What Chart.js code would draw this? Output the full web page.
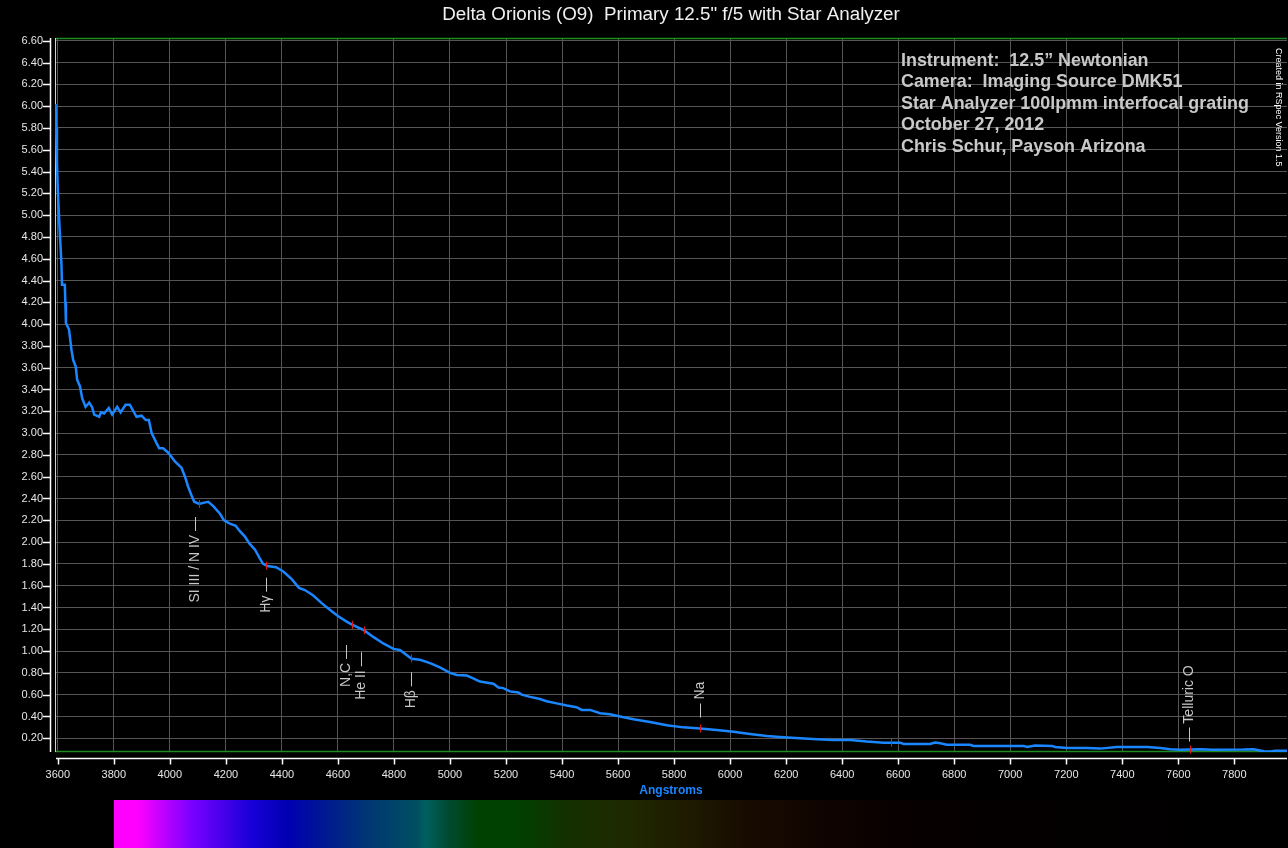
<!DOCTYPE html>
<html>
<head>
<meta charset="utf-8">
<script src="https://cdn.jsdelivr.net/npm/chart.js@4.4.0/dist/chart.umd.min.js"></script>
<style>
  html, body { margin: 0; padding: 0; background: #000; }
</style>
</head>
<body>
<canvas id="myChart" width="1288" height="848"></canvas>
<script>
// spectrum (Angstroms, relative flux)
const wavelengths = [3592, 3594, 3597, 3600, 3605, 3609, 3613, 3615, 3625, 3627, 3629, 3640, 3649, 3655,
  3664, 3669, 3679, 3687, 3699, 3712, 3722, 3730, 3748, 3754, 3765, 3782, 3794, 3812, 3824, 3842,
  3857, 3881, 3899, 3914, 3925, 3935, 3952, 3962, 3976, 3994, 4006, 4018, 4030, 4042, 4054, 4065,
  4077, 4087, 4105, 4119, 4137, 4155, 4179, 4193, 4214, 4235, 4250, 4268, 4283, 4304, 4321, 4333,
  4348, 4379, 4405, 4435, 4461, 4482, 4512, 4542, 4571, 4601, 4631, 4652, 4694, 4726, 4762, 4798,
  4821, 4863, 4893, 4929, 4964, 5000, 5024, 5060, 5083, 5107, 5155, 5173, 5190, 5214, 5244, 5256,
  5286, 5321, 5345, 5381, 5417, 5452, 5470, 5500, 5536, 5571, 5607, 5655, 5714, 5774, 5833, 5893,
  5952, 6012, 6071, 6131, 6190, 6250, 6310, 6369, 6429, 6488, 6548, 6607, 6619, 6654, 6714, 6732,
  6750, 6774, 6857, 6869, 7048, 7060, 7089, 7149, 7160, 7202, 7274, 7321, 7381, 7488, 7536, 7571,
  7607, 7679, 7721, 7833, 7869, 7905, 7929, 7946, 7988];
const flux = [6.02, 5.80, 5.50, 5.23, 4.95, 4.75, 4.55, 4.36, 4.36, 4.20, 4.01, 3.95, 3.76, 3.67,
  3.61, 3.49, 3.43, 3.32, 3.24, 3.28, 3.24, 3.17, 3.15, 3.19, 3.18, 3.23, 3.17, 3.24, 3.19, 3.26,
  3.26, 3.15, 3.16, 3.12, 3.12, 3.00, 2.91, 2.86, 2.86, 2.82, 2.78, 2.74, 2.71, 2.68, 2.60, 2.51,
  2.43, 2.37, 2.35, 2.36, 2.37, 2.33, 2.26, 2.20, 2.17, 2.15, 2.10, 2.05, 1.99, 1.93, 1.85, 1.80,
  1.78, 1.77, 1.73, 1.66, 1.58, 1.56, 1.51, 1.44, 1.38, 1.32, 1.27, 1.24, 1.19, 1.13, 1.07, 1.02,
  1.01, 0.93, 0.92, 0.89, 0.85, 0.80, 0.78, 0.775, 0.75, 0.72, 0.70, 0.665, 0.66, 0.63, 0.62, 0.60,
  0.58, 0.56, 0.54, 0.52, 0.50, 0.485, 0.46, 0.46, 0.43, 0.42, 0.40, 0.375, 0.35, 0.32, 0.30, 0.29,
  0.276, 0.26, 0.24, 0.22, 0.21, 0.20, 0.19, 0.185, 0.185, 0.17, 0.16, 0.16, 0.148, 0.148, 0.148, 0.16,
  0.155, 0.14, 0.14, 0.13, 0.13, 0.12, 0.133, 0.13, 0.12, 0.11, 0.11, 0.105, 0.12, 0.12, 0.11, 0.10,
  0.094, 0.10, 0.094, 0.096, 0.10, 0.08, 0.078, 0.085, 0.085];

const xTickValues = [3600, 3800, 4000, 4200, 4400, 4600, 4800, 5000, 5200, 5400, 5600, 5800,
  6000, 6200, 6400, 6600, 6800, 7000, 7200, 7400, 7600, 7800];
const yTickValues = [0.2, 0.4, 0.6, 0.8, 1.0, 1.2, 1.4, 1.6, 1.8, 2.0, 2.2, 2.4, 2.6, 2.8, 3.0, 3.2,
  3.4, 3.6, 3.8, 4.0, 4.2, 4.4, 4.6, 4.8, 5.0, 5.2, 5.4, 5.6, 5.8, 6.0, 6.2, 6.4, 6.6];

// identified lines
const lineWavelengths = [4105, 4345, 4652, 4694, 4861, 5893, 6575, 7640];
const lineNames = ['SI III / N IV —', 'Hγ —', 'N,C —', 'He II —', 'Hβ —', '— Na', '', '— Telluric O'];

const chartTitle = 'Delta Orionis (O9)  Primary 12.5" f/5 with Star Analyzer';
const infoLines = ['Instrument:  12.5\u201d Newtonian', 'Camera:  Imaging Source DMK51',
  'Star Analyzer 100lpmm interfocal grating', 'October 27, 2012', 'Chris Schur, Payson Arizona'];

const FONT = '"Liberation Sans", Arial, sans-serif';
Chart.defaults.font.family = FONT;

function fluxAt(w) {
  for (let i = 1; i < wavelengths.length; i++) {
    if (w <= wavelengths[i]) {
      const t = (w - wavelengths[i - 1]) / (wavelengths[i] - wavelengths[i - 1]);
      return flux[i - 1] + t * (flux[i] - flux[i - 1]);
    }
  }
  return flux[flux.length - 1];
}

// label placement: side of the curve, gap in px, sideways nudge in px
const labelSide = ['below', 'below', 'below', 'below', 'below', 'above', '', 'above'];
const labelGap = [13, 12, 20, 22, 14, 11, 0, 8];
const labelShift = [-4, 0, -6, -3, 0, 0, 0, -1];

const decor = {
  id: 'decor',
  beforeDatasetsDraw(chart) {
    const {ctx, chartArea: a, scales: {x, y}} = chart;
    ctx.save();
    // green frame top/bottom, yellow left edge
    ctx.strokeStyle = '#1f8a1f';
    ctx.lineWidth = 1.5;
    ctx.beginPath();
    ctx.moveTo(a.left, a.top + 0.5); ctx.lineTo(a.right, a.top + 0.5);
    ctx.moveTo(a.left, a.bottom - 0.5); ctx.lineTo(a.right, a.bottom - 0.5);
    ctx.stroke();
    ctx.strokeStyle = '#e8d870';
    ctx.lineWidth = 1;
    ctx.beginPath();
    ctx.moveTo(a.left + 0.5, a.top); ctx.lineTo(a.left + 0.5, a.bottom);
    ctx.stroke();
    // white axis lines offset from the plot
    ctx.strokeStyle = '#ffffff';
    ctx.lineWidth = 1.5;
    ctx.beginPath();
    ctx.moveTo(a.left - 4.5, a.top); ctx.lineTo(a.left - 4.5, a.bottom);
    ctx.moveTo(a.left + 1, a.bottom + 6.5); ctx.lineTo(a.right, a.bottom + 6.5);
    yTickValues.forEach(v => {
      const py = Math.round(y.getPixelForValue(v)) + 0.5;
      ctx.moveTo(a.left - 12, py); ctx.lineTo(a.left - 4.5, py);
    });
    xTickValues.forEach(v => {
      const px = Math.round(x.getPixelForValue(v)) + 0.5;
      ctx.moveTo(px, a.bottom + 6.5); ctx.lineTo(px, a.bottom + 12.5);
    });
    ctx.stroke();
    ctx.restore();
  },
  afterDatasetsDraw(chart) {
    const {ctx, scales: {x, y}} = chart;
    ctx.save();
    // red line markers and rotated labels
    lineWavelengths.forEach((w, i) => {
      const px = Math.round(x.getPixelForValue(w)) + 0.5;
      const py = y.getPixelForValue(fluxAt(w));
      ctx.strokeStyle = '#e01818';
      ctx.lineWidth = 1;
      ctx.beginPath();
      ctx.moveTo(px, py - 4); ctx.lineTo(px, py + 4);
      ctx.stroke();
      if (!lineNames[i]) return;
      ctx.save();
      ctx.fillStyle = '#c8c8c8';
      ctx.font = '14px ' + FONT;
      ctx.textBaseline = 'middle';
      if (labelSide[i] === 'below') {
        ctx.translate(px + labelShift[i], py + labelGap[i]);
        ctx.rotate(-Math.PI / 2);
        ctx.textAlign = 'right';
      } else {
        ctx.translate(px + labelShift[i], py - labelGap[i]);
        ctx.rotate(-Math.PI / 2);
        ctx.textAlign = 'left';
      }
      ctx.fillText(lineNames[i], 0, 0);
      ctx.restore();
    });
    ctx.restore();
  },
  afterDraw(chart) {
    const {ctx, chartArea: a, scales: {x}} = chart;
    ctx.save();
    // title
    ctx.fillStyle = '#f0f0f0';
    ctx.font = '18.8px ' + FONT;
    ctx.textAlign = 'center';
    ctx.textBaseline = 'middle';
    ctx.fillText(chartTitle, (a.left + a.right) / 2, 15);
    // info block
    ctx.fillStyle = '#c8c8c8';
    ctx.font = 'bold 17.9px ' + FONT;
    ctx.textAlign = 'left';
    infoLines.forEach((t, i) => ctx.fillText(t, 901, 61 + i * 21.5));
    // software credit
    ctx.save();
    ctx.fillStyle = '#ffffff';
    ctx.font = '9px ' + FONT;
    ctx.translate(1278, 48);
    ctx.rotate(Math.PI / 2);
    ctx.textAlign = 'left';
    ctx.fillText('Created in RSpec Version 1.5', 0, 0);
    ctx.restore();
    // synthetic spectrum strip
    const x0 = x.getPixelForValue(3800), x1 = chart.width;
    const g = ctx.createLinearGradient(x0, 0, x1, 0);
    [[0, '#ff00ff'], [0.02, '#ff00ff'], [0.066, '#7a00ff'], [0.117, '#1800d8'], [0.149, '#0000b0'],
     [0.181, '#001a90'], [0.214, '#003575'], [0.259, '#005060'], [0.266, '#006060'], [0.285, '#004a30'],
     [0.311, '#004000'], [0.343, '#004000'], [0.388, '#153000'], [0.44, '#1e2800'], [0.49, '#1e1a00'],
     [0.537, '#180c00'], [0.6, '#100400'], [0.665, '#080000'], [0.76, '#040000'], [1, '#000000']]
      .forEach(s => g.addColorStop(s[0], s[1]));
    ctx.fillStyle = g;
    ctx.fillRect(x0, 800, x1 - x0, 48);
    ctx.restore();
  }
};

const ctx = document.getElementById('myChart');

new Chart(ctx, {
  type: 'line',
  data: {
    datasets: [{
      data: wavelengths.map((w, i) => ({x: w, y: flux[i]})),
      borderColor: '#1a86ff',
      borderWidth: 2.5,
      pointRadius: 0,
      tension: 0,
      fill: false
    }]
  },
  options: {
    responsive: false,
    animation: false,
    layout: { padding: { top: 38, right: 1 } },
    plugins: { legend: { display: false }, tooltip: { enabled: false } },
    scales: {
      x: {
        type: 'linear',
        min: 3590,
        max: 7988,
        afterBuildTicks: s => { s.ticks = xTickValues.map(v => ({value: v})); },
        afterFit: s => { s.height = 96; },
        grid: { color: '#555555', lineWidth: 1, drawTicks: false },
        border: { display: false },
        ticks: {
          color: '#e6e6e6',
          font: { size: 11 },
          padding: 16,
          maxRotation: 0,
          autoSkip: false,
          callback: v => String(v)
        },
        title: {
          display: true,
          text: 'Angstroms',
          color: '#1a86ff',
          font: { size: 12, weight: 'bold' },
          padding: { top: 0, bottom: 50 }
        }
      },
      y: {
        min: 0.074,
        max: 6.625,
        afterBuildTicks: s => { s.ticks = yTickValues.map(v => ({value: v})); },
        afterFit: s => { s.width = 55; },
        grid: { color: '#555555', lineWidth: 1, drawTicks: false },
        border: { display: false },
        ticks: {
          color: '#e6e6e6',
          font: { size: 11 },
          padding: 12,
          autoSkip: false,
          callback: v => v.toFixed(2)
        }
      }
    }
  },
  plugins: [decor]
});
</script>
</body>
</html>
